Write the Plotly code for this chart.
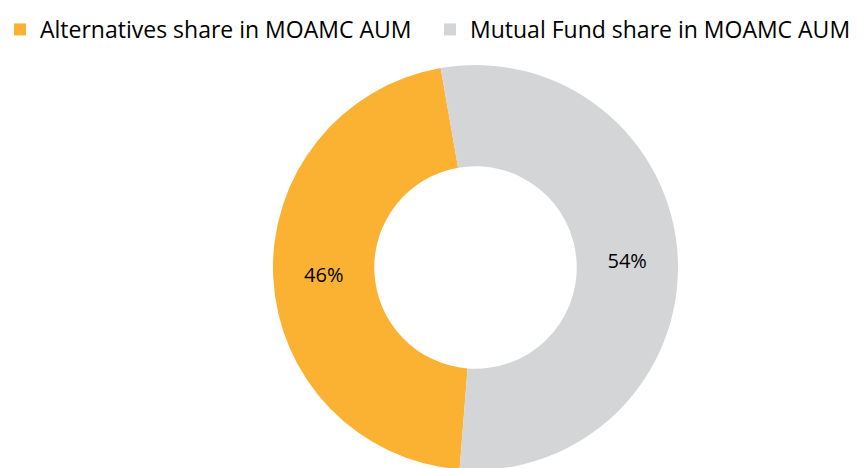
import plotly.graph_objects as go

labels = ["Alternatives share in MOAMC AUM", "Mutual Fund share in MOAMC AUM"]
values = [46, 54]
colors = ["#FBB131", "#D4D5D7"]

W, H = 866, 468
T, B = 57, 6
PH = H - T - B
fig = go.Figure(go.Pie(
    labels=labels,
    values=values,
    hole=0.5,
    sort=False,
    direction="clockwise",
    rotation=184.5,
    marker=dict(colors=colors, line=dict(width=0)),
    textinfo="percent",
    textposition="inside",
    insidetextorientation="horizontal",
    textfont=dict(family="Open Sans", size=20, color="#000000"),
    domain=dict(x=[265 / W, 670 / W], y=[0, 1]),
    hoverinfo="label+percent",
))

fig.update_layout(
    width=W, height=H,
    margin=dict(l=0, r=0, t=T, b=B, autoexpand=False),
    paper_bgcolor="white",
    plot_bgcolor="white",
    font=dict(family="Open Sans", size=23, color="#000000"),
    showlegend=True,
    legend=dict(
        orientation="h",
        x=-8 / W, xanchor="left",
        y=1 + T / PH, yanchor="top",
        font=dict(family="Open Sans", size=23, color="#000000"),
        traceorder="normal",
        entrywidth=385,
        entrywidthmode="pixels",
    ),
)

fig.write_html("out.html")
